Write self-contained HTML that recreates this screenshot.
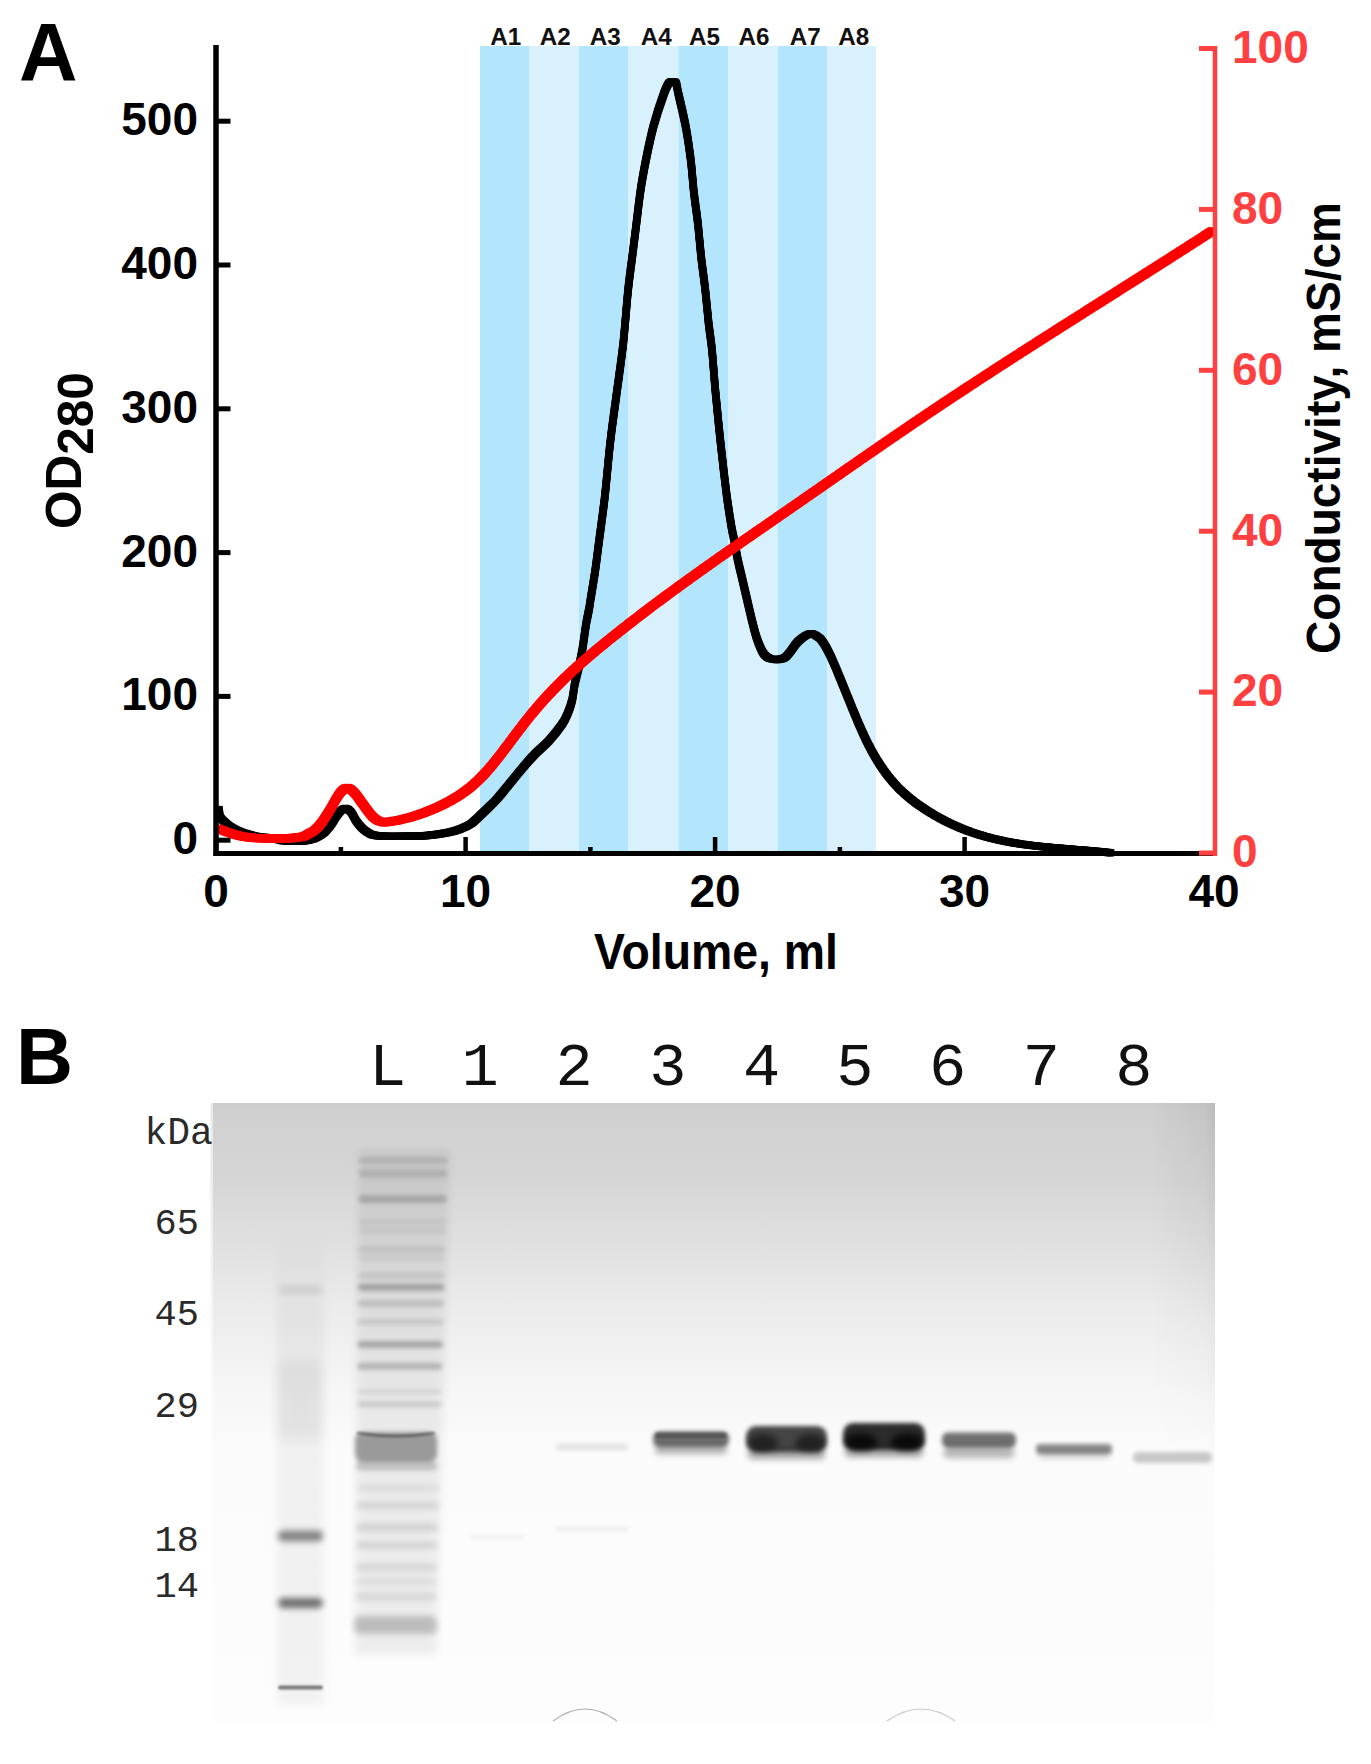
<!DOCTYPE html>
<html><head><meta charset="utf-8"><title>Figure</title>
<style>html,body{margin:0;padding:0;background:#fff;}svg{display:block;}</style>
</head><body>
<svg width="1371" height="1764" viewBox="0 0 1371 1764">
<rect width="1371" height="1764" fill="#fff"/>
<defs>
<linearGradient id="gv" gradientUnits="userSpaceOnUse" x1="0" y1="1103" x2="0" y2="1722">
 <stop offset="0" stop-color="#cdcdcd"/>
 <stop offset="0.02" stop-color="#d0d0d0"/>
 <stop offset="0.124" stop-color="#d6d6d6"/>
 <stop offset="0.237" stop-color="#e1e1e1"/>
 <stop offset="0.318" stop-color="#eaeaea"/>
 <stop offset="0.399" stop-color="#f1f1f1"/>
 <stop offset="0.48" stop-color="#f7f7f7"/>
 <stop offset="0.56" stop-color="#fbfbfb"/>
 <stop offset="1" stop-color="#fdfdfd"/>
</linearGradient>
<linearGradient id="gre" gradientUnits="userSpaceOnUse" x1="1150" y1="0" x2="1215" y2="0">
 <stop offset="0" stop-color="#000" stop-opacity="0"/>
 <stop offset="0.85" stop-color="#000" stop-opacity="0.05"/>
 <stop offset="1" stop-color="#000" stop-opacity="0.09"/>
</linearGradient>
<linearGradient id="gfade" gradientUnits="userSpaceOnUse" x1="0" y1="1103" x2="0" y2="1480">
 <stop offset="0" stop-color="#fff" stop-opacity="1"/>
 <stop offset="1" stop-color="#fff" stop-opacity="0"/>
</linearGradient>
<mask id="gmask"><rect x="1100" y="1103" width="120" height="380" fill="url(#gfade)"/></mask>
<filter id="b1" x="-10%" y="-300%" width="120%" height="700%"><feGaussianBlur stdDeviation="1.3"/></filter>
<filter id="b2" x="-10%" y="-300%" width="120%" height="700%"><feGaussianBlur stdDeviation="2"/></filter>
<filter id="b3" x="-20%" y="-200%" width="140%" height="500%"><feGaussianBlur stdDeviation="3"/></filter>
<filter id="b4" x="-20%" y="-100%" width="140%" height="300%"><feGaussianBlur stdDeviation="4"/></filter>
<filter id="b6" x="-30%" y="-30%" width="160%" height="160%"><feGaussianBlur stdDeviation="6"/></filter>
<linearGradient id="mlane" gradientUnits="userSpaceOnUse" x1="0" y1="1230" x2="0" y2="1705">
 <stop offset="0" stop-color="#000" stop-opacity="0"/>
 <stop offset="0.2" stop-color="#000" stop-opacity="0.045"/>
 <stop offset="1" stop-color="#000" stop-opacity="0.045"/>
</linearGradient>
<clipPath id="gclip"><rect x="210.5" y="1103" width="1004.5" height="619"/></clipPath>
</defs>
<g clip-path="url(#gclip)">
<rect x="210.5" y="1103.0" width="1004.5" height="619.0" fill="url(#gv)"/>
<rect x="1100" y="1103" width="115" height="380" fill="url(#gre)" mask="url(#gmask)"/>
<rect x="210.5" y="1103" width="2.5" height="619" fill="#fff" opacity="0.55"/>
<rect x="277" y="1230" width="47" height="475" fill="url(#mlane)" filter="url(#b4)"/>
<rect x="277.0" y="1360.0" width="45.0" height="80.0" rx="5.0" fill="#000" opacity="0.045" filter="url(#b6)"/>
<rect x="278.0" y="1285.5" width="45.0" height="9.0" rx="4.5" fill="#000" opacity="0.080" filter="url(#b3)"/>
<rect x="278.0" y="1530.5" width="45.0" height="11.0" rx="5.0" fill="#000" opacity="0.450" filter="url(#b3)"/>
<rect x="278.0" y="1598.0" width="45.0" height="10.0" rx="5.0" fill="#000" opacity="0.550" filter="url(#b3)"/>
<rect x="278.0" y="1685.5" width="45.0" height="4.0" rx="2.0" fill="#000" opacity="0.500" filter="url(#b1)"/>
<path d="M358,1150 L450,1150 L437,1655 L354,1655 Z" fill="#000" opacity="0.06" filter="url(#b4)"/>
<rect x="358.9" y="1156.9" width="88.8" height="7.0" rx="3.5" fill="#000" opacity="0.100" filter="url(#b2)"/>
<rect x="358.8" y="1169.5" width="88.6" height="8.0" rx="4.0" fill="#000" opacity="0.120" filter="url(#b2)"/>
<rect x="358.6" y="1195.0" width="88.1" height="8.0" rx="4.0" fill="#000" opacity="0.180" filter="url(#b2)"/>
<rect x="358.4" y="1218.7" width="87.7" height="6.0" rx="3.0" fill="#000" opacity="0.060" filter="url(#b2)"/>
<rect x="358.4" y="1227.9" width="87.6" height="5.0" rx="2.5" fill="#000" opacity="0.060" filter="url(#b2)"/>
<rect x="358.2" y="1246.4" width="87.2" height="6.0" rx="3.0" fill="#000" opacity="0.090" filter="url(#b2)"/>
<rect x="358.1" y="1255.5" width="87.1" height="5.0" rx="2.5" fill="#000" opacity="0.060" filter="url(#b2)"/>
<rect x="358.0" y="1272.7" width="86.7" height="6.0" rx="3.0" fill="#000" opacity="0.090" filter="url(#b2)"/>
<rect x="357.9" y="1283.8" width="86.5" height="7.0" rx="3.5" fill="#000" opacity="0.250" filter="url(#b2)"/>
<rect x="357.8" y="1299.9" width="86.2" height="7.0" rx="3.5" fill="#000" opacity="0.130" filter="url(#b2)"/>
<rect x="357.6" y="1319.0" width="85.9" height="6.0" rx="3.0" fill="#000" opacity="0.100" filter="url(#b2)"/>
<rect x="357.4" y="1340.9" width="85.5" height="7.0" rx="3.5" fill="#000" opacity="0.250" filter="url(#b2)"/>
<rect x="357.3" y="1362.8" width="85.1" height="7.0" rx="3.5" fill="#000" opacity="0.200" filter="url(#b2)"/>
<rect x="357.1" y="1389.3" width="84.6" height="5.0" rx="2.5" fill="#000" opacity="0.080" filter="url(#b2)"/>
<rect x="357.0" y="1401.2" width="84.4" height="6.0" rx="3.0" fill="#000" opacity="0.120" filter="url(#b2)"/>
<rect x="356.5" y="1463.0" width="83.3" height="6.0" rx="3.0" fill="#000" opacity="0.080" filter="url(#b3)"/>
<rect x="356.3" y="1485.0" width="82.9" height="6.0" rx="3.0" fill="#000" opacity="0.080" filter="url(#b3)"/>
<rect x="356.2" y="1502.0" width="82.6" height="7.0" rx="3.5" fill="#000" opacity="0.110" filter="url(#b3)"/>
<rect x="356.0" y="1524.1" width="82.2" height="7.0" rx="3.5" fill="#000" opacity="0.120" filter="url(#b3)"/>
<rect x="355.8" y="1542.3" width="81.9" height="6.0" rx="3.0" fill="#000" opacity="0.120" filter="url(#b3)"/>
<rect x="355.7" y="1563.9" width="81.5" height="7.0" rx="3.5" fill="#000" opacity="0.100" filter="url(#b3)"/>
<rect x="355.5" y="1579.0" width="81.2" height="6.0" rx="3.0" fill="#000" opacity="0.080" filter="url(#b3)"/>
<rect x="355.4" y="1593.3" width="81.0" height="7.0" rx="3.5" fill="#000" opacity="0.100" filter="url(#b3)"/>
<rect x="355.0" y="1432.0" width="82.0" height="30.0" rx="8.0" fill="#000" opacity="0.340" filter="url(#b2)"/>
<rect x="356.0" y="1461.0" width="80.0" height="10.0" rx="4.0" fill="#000" opacity="0.120" filter="url(#b2)"/>
<path d="M357,1433 Q396,1439 435,1433" fill="none" stroke="#000" stroke-width="3" opacity="0.35" filter="url(#b1)"/>
<rect x="354.0" y="1616.0" width="83.0" height="18.0" rx="6.0" fill="#000" opacity="0.200" filter="url(#b3)"/>
<rect x="470.0" y="1535.0" width="55.0" height="4.0" rx="2.0" fill="#000" opacity="0.050" filter="url(#b2)"/>
<rect x="556.0" y="1444.0" width="72.0" height="6.0" rx="3.0" fill="#000" opacity="0.100" filter="url(#b2)"/>
<rect x="556.0" y="1527.0" width="72.0" height="4.0" rx="2.0" fill="#000" opacity="0.070" filter="url(#b2)"/>
<rect x="653.0" y="1431.5" width="76.0" height="15.0" rx="6.0" fill="#000" opacity="0.550" filter="url(#b2)"/>
<rect x="655.0" y="1432.0" width="72.0" height="6.0" rx="3.0" fill="#000" opacity="0.250" filter="url(#b1)"/>
<rect x="655.0" y="1444.0" width="72.0" height="10.0" rx="4.0" fill="#000" opacity="0.300" filter="url(#b3)"/>
<rect x="746.0" y="1426.0" width="81.0" height="26.0" rx="10.0" fill="#000" opacity="0.720" filter="url(#b2)"/>
<rect x="748.0" y="1449.0" width="77.0" height="10.0" rx="4.0" fill="#000" opacity="0.350" filter="url(#b3)"/>
<ellipse cx="763.0" cy="1443.0" rx="15.0" ry="9.0" fill="#000" opacity="0.500" filter="url(#b3)"/>
<ellipse cx="810.5" cy="1443.0" rx="15.0" ry="9.0" fill="#000" opacity="0.500" filter="url(#b3)"/>
<rect x="843.0" y="1423.0" width="82.0" height="27.0" rx="10.0" fill="#000" opacity="0.820" filter="url(#b2)"/>
<rect x="845.0" y="1447.0" width="78.0" height="10.0" rx="4.0" fill="#000" opacity="0.350" filter="url(#b3)"/>
<ellipse cx="861.0" cy="1442.0" rx="16.0" ry="9.0" fill="#000" opacity="0.750" filter="url(#b3)"/>
<ellipse cx="907.0" cy="1442.0" rx="16.0" ry="9.0" fill="#000" opacity="0.750" filter="url(#b3)"/>
<rect x="942.0" y="1432.5" width="74.0" height="15.0" rx="6.0" fill="#000" opacity="0.550" filter="url(#b2)"/>
<rect x="944.0" y="1446.0" width="70.0" height="12.0" rx="4.0" fill="#000" opacity="0.280" filter="url(#b3)"/>
<rect x="1036.0" y="1444.0" width="76.0" height="10.0" rx="4.0" fill="#000" opacity="0.450" filter="url(#b2)"/>
<rect x="1038.0" y="1452.0" width="72.0" height="6.0" rx="3.0" fill="#000" opacity="0.180" filter="url(#b3)"/>
<rect x="1133.0" y="1452.0" width="79.0" height="11.0" rx="5.0" fill="#000" opacity="0.200" filter="url(#b2)"/>
<path d="M553,1721 Q585,1697 617,1721" fill="none" stroke="#777" stroke-width="1.2" opacity="0.6"/>
<path d="M887,1721 Q921,1697 955,1721" fill="none" stroke="#999" stroke-width="1.2" opacity="0.5"/>
</g>
<rect x="480.0" y="46" width="49.5" height="807" fill="#b3e6fd"/>
<rect x="529.5" y="46" width="49.5" height="807" fill="#d9f1fd"/>
<rect x="579.0" y="46" width="49.5" height="807" fill="#b3e6fd"/>
<rect x="628.5" y="46" width="50.0" height="807" fill="#d9f1fd"/>
<rect x="678.5" y="46" width="49.5" height="807" fill="#b3e6fd"/>
<rect x="728.0" y="46" width="49.5" height="807" fill="#d9f1fd"/>
<rect x="777.5" y="46" width="50.0" height="807" fill="#b3e6fd"/>
<rect x="827.5" y="46" width="48.5" height="807" fill="#d9f1fd"/>
<text x="505.7" y="44.8" text-anchor="middle" font-size="24.5" font-family="&apos;Liberation Sans&apos;, sans-serif" font-weight="bold" textLength="31" lengthAdjust="spacingAndGlyphs" fill="#111">A1</text>
<text x="555.2" y="44.8" text-anchor="middle" font-size="24.5" font-family="&apos;Liberation Sans&apos;, sans-serif" font-weight="bold" textLength="31" lengthAdjust="spacingAndGlyphs" fill="#111">A2</text>
<text x="605.2" y="44.8" text-anchor="middle" font-size="24.5" font-family="&apos;Liberation Sans&apos;, sans-serif" font-weight="bold" textLength="31" lengthAdjust="spacingAndGlyphs" fill="#111">A3</text>
<text x="656.2" y="44.8" text-anchor="middle" font-size="24.5" font-family="&apos;Liberation Sans&apos;, sans-serif" font-weight="bold" textLength="31" lengthAdjust="spacingAndGlyphs" fill="#111">A4</text>
<text x="704.5" y="44.8" text-anchor="middle" font-size="24.5" font-family="&apos;Liberation Sans&apos;, sans-serif" font-weight="bold" textLength="31" lengthAdjust="spacingAndGlyphs" fill="#111">A5</text>
<text x="754.1" y="44.8" text-anchor="middle" font-size="24.5" font-family="&apos;Liberation Sans&apos;, sans-serif" font-weight="bold" textLength="31" lengthAdjust="spacingAndGlyphs" fill="#111">A6</text>
<text x="805.2" y="44.8" text-anchor="middle" font-size="24.5" font-family="&apos;Liberation Sans&apos;, sans-serif" font-weight="bold" textLength="31" lengthAdjust="spacingAndGlyphs" fill="#111">A7</text>
<text x="853.8" y="44.8" text-anchor="middle" font-size="24.5" font-family="&apos;Liberation Sans&apos;, sans-serif" font-weight="bold" textLength="31" lengthAdjust="spacingAndGlyphs" fill="#111">A8</text>
<defs><path id="cb" d="M219.2,809.5 C219.3,810.7 219.3,814.6 220.0,816.5 C220.7,818.4 221.9,819.4 223.5,821.0 C225.1,822.6 227.1,824.4 229.5,826.0 C231.9,827.6 234.6,829.1 237.8,830.5 C241.0,831.9 245.2,833.4 248.8,834.5 C252.5,835.6 256.1,836.4 259.7,837.0 C263.3,837.6 267.0,837.4 270.6,838.0 C274.2,838.6 278.0,840.0 281.6,840.5 C285.2,841.0 288.9,841.2 292.5,841.3 C296.1,841.4 299.9,841.5 303.5,841.0 C307.1,840.5 311.6,839.4 314.4,838.5 C317.1,837.6 318.2,836.7 320.0,835.5 C321.8,834.3 323.4,833.4 325.3,831.5 C327.2,829.6 329.8,826.5 331.6,824.0 C333.4,821.5 334.7,818.8 336.3,816.5 C337.9,814.2 339.4,811.8 341.0,810.5 C342.6,809.2 344.3,808.2 346.0,808.5 C347.7,808.8 349.3,809.9 351.0,812.0 C352.7,814.1 354.6,818.7 356.4,821.3 C358.2,823.9 360.1,826.0 361.9,827.8 C363.7,829.6 365.6,831.0 367.4,832.2 C369.2,833.4 370.1,834.3 372.8,835.0 C375.5,835.7 378.3,836.1 383.8,836.3 C389.3,836.5 398.3,836.4 405.6,836.3 C412.9,836.2 420.2,836.2 427.5,835.5 C434.8,834.8 443.9,833.3 449.4,832.2 C454.9,831.1 456.6,830.5 460.3,829.0 C464.0,827.5 467.7,826.1 471.3,823.5 C474.9,820.9 479.1,816.4 482.2,813.5 C485.3,810.6 487.7,808.2 490.0,806.0 C492.3,803.8 493.2,803.1 496.0,800.0 C498.8,796.9 502.1,792.8 506.5,787.5 C510.9,782.2 517.7,773.7 522.5,768.0 C527.3,762.3 531.1,758.0 535.5,753.5 C539.9,749.0 544.4,745.6 548.8,740.8 C553.2,736.0 558.8,729.0 561.9,724.5 C565.0,720.0 565.8,718.1 567.5,714.0 C569.2,709.9 571.0,705.0 572.2,700.0 C573.4,695.0 573.6,689.6 574.8,683.9 C576.0,678.2 578.0,671.1 579.2,665.6 C580.4,660.1 581.2,655.9 582.1,651.0 C583.0,646.1 583.6,641.4 584.3,636.5 C585.0,631.6 585.6,626.8 586.5,621.9 C587.4,617.0 588.7,611.3 589.4,607.3 C590.1,603.3 589.8,604.2 590.8,598.0 C591.8,591.8 593.9,579.7 595.3,570.0 C596.7,560.3 597.6,552.2 599.2,540.0 C600.8,527.8 602.9,513.3 604.8,497.0 C606.6,480.7 608.3,459.7 610.3,442.0 C612.3,424.3 614.8,407.5 617.0,391.0 C619.2,374.5 621.4,359.8 623.3,343.0 C625.1,326.2 626.6,304.4 628.1,290.1 C629.6,275.8 630.8,268.2 632.2,257.3 C633.6,246.4 634.9,235.4 636.3,224.4 C637.7,213.4 638.8,202.5 640.4,191.5 C642.0,180.5 644.0,169.5 646.2,158.6 C648.4,147.7 650.6,136.8 653.6,125.8 C656.6,114.8 661.6,100.0 664.2,92.9 C666.8,85.8 667.6,84.8 669.0,83.0 C670.4,81.2 671.3,81.8 672.5,81.8 C673.7,81.8 675.0,81.2 676.0,83.0 C677.0,84.8 676.6,85.8 678.2,92.9 C679.8,100.0 683.5,114.8 685.6,125.8 C687.7,136.8 689.2,147.7 690.6,158.6 C692.0,169.5 692.6,180.5 693.8,191.5 C695.0,202.5 696.8,213.4 698.0,224.4 C699.2,235.4 700.0,246.4 701.2,257.3 C702.4,268.2 704.1,279.2 705.3,290.1 C706.5,301.1 707.5,313.0 708.6,323.0 C709.7,333.0 710.9,338.7 712.0,350.0 C713.1,361.3 714.0,375.7 715.4,391.0 C716.8,406.3 718.7,425.0 720.5,442.0 C722.3,459.0 724.6,478.8 726.4,493.0 C728.2,507.2 730.2,519.0 731.5,527.0 C732.8,535.0 733.4,535.6 734.4,541.0 C735.4,546.4 736.4,553.0 737.7,559.4 C739.0,565.8 740.8,572.5 742.3,579.1 C743.8,585.7 745.4,592.2 746.9,598.8 C748.4,605.4 749.9,611.9 751.5,618.5 C753.1,625.1 754.8,632.4 756.8,638.2 C758.8,644.0 761.3,650.1 763.5,653.5 C765.7,656.9 767.6,657.5 770.0,658.5 C772.4,659.5 775.5,659.7 778.0,659.5 C780.5,659.3 783.0,658.8 785.0,657.5 C787.0,656.2 787.7,654.8 790.0,652.0 C792.3,649.2 795.4,643.9 798.8,640.8 C802.2,637.7 807.1,634.0 810.6,633.6 C814.1,633.2 818.0,637.2 819.8,638.3 C821.6,639.4 820.8,639.4 821.3,640.0 C821.8,640.6 822.3,641.3 822.8,642.0 C823.3,642.7 823.8,643.5 824.3,644.2 C824.8,645.0 825.3,645.9 825.8,646.7 C826.3,647.6 826.8,648.5 827.3,649.5 C827.8,650.4 828.3,651.4 828.8,652.4 C829.3,653.4 829.8,654.4 830.3,655.4 C830.8,656.5 831.3,657.6 831.8,658.7 C832.3,659.8 832.8,660.9 833.3,662.0 C833.8,663.2 834.3,664.3 834.8,665.5 C835.3,666.7 835.8,667.8 836.3,669.0 C836.8,670.2 837.3,671.4 837.8,672.6 C838.3,673.8 838.8,675.1 839.3,676.3 C839.8,677.5 840.3,678.7 840.8,679.9 C841.3,681.2 841.8,682.4 842.3,683.6 C842.8,684.8 843.3,686.1 843.8,687.3 C844.3,688.5 844.8,689.8 845.3,691.0 C845.8,692.3 846.3,693.5 846.8,694.7 C847.3,696.0 847.8,697.2 848.3,698.4 C848.8,699.7 849.3,700.9 849.8,702.1 C850.3,703.3 850.8,704.6 851.3,705.8 C851.8,707.0 852.3,708.2 852.8,709.5 C853.3,710.7 853.8,711.9 854.3,713.1 C854.8,714.3 855.3,715.5 855.8,716.7 C856.3,717.9 856.8,719.1 857.3,720.3 C857.8,721.4 858.3,722.6 858.8,723.8 C859.3,724.9 859.8,726.1 860.3,727.2 C860.8,728.4 861.3,729.5 861.8,730.6 C862.3,731.7 862.8,732.8 863.3,733.9 C863.8,735.0 864.3,736.1 864.8,737.2 C865.3,738.2 865.8,739.3 866.3,740.3 C866.8,741.3 867.3,742.3 867.8,743.3 C868.3,744.3 868.8,745.3 869.3,746.3 C869.8,747.2 870.3,748.2 870.8,749.1 C871.3,750.1 871.8,751.0 872.3,751.9 C872.8,752.8 873.3,753.7 873.8,754.6 C874.3,755.4 874.8,756.3 875.3,757.1 C875.8,758.0 876.3,758.8 876.8,759.7 C877.3,760.5 877.8,761.3 878.3,762.1 C878.8,762.9 879.3,763.7 879.8,764.4 C880.3,765.2 880.8,766.0 881.3,766.7 C881.8,767.4 882.3,768.2 882.8,768.9 C883.3,769.6 883.8,770.3 884.3,771.0 C884.8,771.7 885.3,772.4 885.8,773.1 C886.3,773.7 886.8,774.4 887.3,775.1 C887.8,775.7 888.3,776.4 888.8,777.0 C889.3,777.6 889.8,778.2 890.3,778.8 C890.8,779.5 891.3,780.1 891.8,780.6 C892.3,781.2 892.8,781.8 893.3,782.4 C893.8,783.0 894.3,783.5 894.8,784.1 C895.3,784.6 895.8,785.2 896.3,785.7 C896.8,786.2 897.3,786.7 897.8,787.3 C898.3,787.8 898.8,788.3 899.3,788.8 C899.8,789.3 900.3,789.8 900.8,790.3 C901.3,790.7 901.8,791.2 902.3,791.7 C902.8,792.2 903.3,792.6 903.8,793.1 C904.3,793.5 904.8,794.0 905.3,794.4 C905.8,794.9 906.3,795.3 906.8,795.7 C907.3,796.2 907.8,796.6 908.3,797.0 C908.8,797.4 909.3,797.8 909.8,798.2 C910.3,798.6 910.8,799.0 911.3,799.4 C911.8,799.8 912.3,800.2 912.8,800.6 C913.3,801.0 913.8,801.4 914.3,801.7 C914.8,802.1 915.3,802.5 915.8,802.9 C916.3,803.2 916.8,803.6 917.3,803.9 C917.8,804.3 918.3,804.7 918.8,805.0 C919.3,805.4 919.8,805.7 920.3,806.1 C920.8,806.4 921.3,806.8 921.8,807.1 C922.3,807.4 922.8,807.8 923.3,808.1 C923.8,808.4 924.3,808.8 924.8,809.1 C925.3,809.4 925.8,809.8 926.3,810.1 C926.8,810.4 927.3,810.7 927.8,811.0 C928.3,811.4 928.8,811.7 929.3,812.0 C929.8,812.3 930.3,812.6 930.8,812.9 C931.3,813.2 931.8,813.5 932.3,813.8 C932.8,814.1 933.3,814.4 933.8,814.7 C934.3,815.0 934.8,815.3 935.3,815.6 C935.8,815.9 936.3,816.2 936.8,816.4 C937.3,816.7 937.8,817.0 938.3,817.3 C938.8,817.6 939.3,817.8 939.8,818.1 C940.3,818.4 940.8,818.7 941.3,818.9 C941.8,819.2 942.3,819.5 942.8,819.7 C943.3,820.0 943.8,820.2 944.3,820.5 C944.8,820.7 945.3,821.0 945.8,821.3 C946.3,821.5 946.8,821.8 947.3,822.0 C947.8,822.3 948.3,822.5 948.8,822.7 C949.3,823.0 949.8,823.2 950.3,823.5 C950.8,823.7 951.3,823.9 951.8,824.2 C952.3,824.4 952.8,824.6 953.3,824.9 C953.8,825.1 954.3,825.3 954.8,825.5 C955.3,825.8 955.8,826.0 956.3,826.2 C956.8,826.4 957.3,826.6 957.8,826.8 C958.3,827.1 958.8,827.3 959.3,827.5 C959.8,827.7 960.3,827.9 960.8,828.1 C961.3,828.3 961.8,828.5 962.3,828.7 C962.8,828.9 963.3,829.1 963.8,829.3 C964.3,829.5 964.8,829.7 965.3,829.9 C965.8,830.1 966.3,830.3 966.8,830.5 C967.3,830.6 967.8,830.8 968.3,831.0 C968.8,831.2 969.3,831.4 969.8,831.6 C970.3,831.7 970.8,831.9 971.3,832.1 C971.8,832.3 972.3,832.4 972.8,832.6 C973.3,832.8 973.8,832.9 974.3,833.1 C974.8,833.3 975.3,833.4 975.8,833.6 C976.3,833.8 976.8,833.9 977.3,834.1 C977.8,834.3 978.3,834.4 978.8,834.6 C979.3,834.7 979.8,834.9 980.3,835.0 C980.8,835.2 981.3,835.3 981.8,835.5 C982.3,835.6 982.8,835.8 983.3,835.9 C983.8,836.1 984.3,836.2 984.8,836.4 C985.3,836.5 985.8,836.6 986.3,836.8 C986.8,836.9 987.3,837.0 987.8,837.2 C988.3,837.3 988.8,837.5 989.3,837.6 C989.8,837.7 990.3,837.8 990.8,838.0 C991.3,838.1 991.8,838.2 992.3,838.4 C992.8,838.5 993.3,838.6 993.8,838.7 C994.3,838.8 994.8,839.0 995.3,839.1 C995.8,839.2 996.3,839.3 996.8,839.4 C997.3,839.5 997.8,839.7 998.3,839.8 C998.8,839.9 999.3,840.0 999.8,840.1 C1000.3,840.2 1000.8,840.3 1001.3,840.4 C1001.8,840.5 1002.3,840.6 1002.8,840.8 C1003.3,840.9 1003.8,841.0 1004.3,841.1 C1004.8,841.2 1005.3,841.3 1005.8,841.4 C1006.3,841.5 1006.8,841.6 1007.3,841.7 C1007.8,841.7 1008.3,841.8 1008.8,841.9 C1009.3,842.0 1009.8,842.1 1010.3,842.2 C1010.8,842.3 1011.3,842.4 1011.8,842.5 C1012.3,842.6 1012.8,842.7 1013.3,842.7 C1013.8,842.8 1014.3,842.9 1014.8,843.0 C1015.3,843.1 1015.8,843.2 1016.3,843.2 C1016.8,843.3 1017.3,843.4 1017.8,843.5 C1018.3,843.6 1018.8,843.6 1019.3,843.7 C1019.8,843.8 1020.3,843.9 1020.8,844.0 C1021.3,844.0 1021.8,844.1 1022.3,844.2 C1022.8,844.2 1023.3,844.3 1023.8,844.4 C1024.3,844.5 1024.8,844.5 1025.3,844.6 C1025.8,844.7 1026.3,844.7 1026.8,844.8 C1027.3,844.9 1027.8,844.9 1028.3,845.0 C1028.8,845.1 1029.3,845.1 1029.8,845.2 C1030.3,845.3 1030.8,845.3 1031.3,845.4 C1031.8,845.4 1032.3,845.5 1032.8,845.6 C1033.3,845.6 1033.8,845.7 1034.3,845.8 C1034.8,845.8 1035.3,845.9 1035.8,845.9 C1036.3,846.0 1036.8,846.0 1037.3,846.1 C1037.8,846.2 1038.3,846.2 1038.8,846.3 C1039.3,846.3 1039.8,846.4 1040.3,846.4 C1040.8,846.5 1041.3,846.5 1041.8,846.6 C1042.3,846.6 1042.8,846.7 1043.3,846.7 C1043.8,846.8 1044.3,846.8 1044.8,846.9 C1045.3,846.9 1045.8,847.0 1046.3,847.0 C1046.8,847.1 1047.3,847.1 1047.8,847.2 C1048.3,847.2 1048.8,847.3 1049.3,847.3 C1049.8,847.4 1050.3,847.4 1050.8,847.5 C1051.3,847.5 1051.8,847.6 1052.3,847.6 C1052.8,847.6 1053.3,847.7 1053.8,847.7 C1054.3,847.8 1054.8,847.8 1055.3,847.9 C1055.8,847.9 1056.3,848.0 1056.8,848.0 C1057.3,848.0 1057.8,848.1 1058.3,848.1 C1058.8,848.2 1059.3,848.2 1059.8,848.2 C1060.3,848.3 1060.8,848.3 1061.3,848.4 C1061.8,848.4 1062.3,848.5 1062.8,848.5 C1063.3,848.5 1063.8,848.6 1064.3,848.6 C1064.8,848.7 1065.3,848.7 1065.8,848.7 C1066.3,848.8 1066.8,848.8 1067.3,848.9 C1067.8,848.9 1068.3,848.9 1068.8,849.0 C1069.3,849.0 1069.8,849.1 1070.3,849.1 C1070.8,849.1 1071.3,849.2 1071.8,849.2 C1072.3,849.3 1072.8,849.3 1073.3,849.3 C1073.8,849.4 1074.3,849.4 1074.8,849.5 C1075.3,849.5 1075.8,849.5 1076.3,849.6 C1076.8,849.6 1077.3,849.7 1077.8,849.7 C1078.3,849.7 1078.8,849.8 1079.3,849.8 C1079.8,849.9 1080.3,849.9 1080.8,849.9 C1081.3,850.0 1081.8,850.0 1082.3,850.1 C1082.8,850.1 1083.3,850.1 1083.8,850.2 C1084.3,850.2 1084.8,850.3 1085.3,850.3 C1085.8,850.3 1086.3,850.4 1086.8,850.4 C1087.3,850.5 1087.8,850.5 1088.3,850.6 C1088.8,850.6 1089.3,850.6 1089.8,850.7 C1090.3,850.7 1090.8,850.8 1091.3,850.8 C1091.8,850.9 1092.3,850.9 1092.8,851.0 C1093.3,851.0 1093.8,851.0 1094.3,851.1 C1094.8,851.1 1095.3,851.2 1095.8,851.2 C1096.3,851.3 1096.8,851.3 1097.3,851.4 C1097.8,851.4 1098.3,851.5 1098.8,851.5 C1099.3,851.6 1099.8,851.6 1100.3,851.7 C1100.8,851.7 1101.3,851.8 1101.8,851.8 C1102.3,851.9 1102.8,851.9 1103.3,852.0 C1103.8,852.0 1104.3,852.1 1104.8,852.1 C1105.3,852.2 1105.8,852.2 1106.3,852.3 C1106.8,852.3 1107.3,852.4 1107.8,852.5 C1108.3,852.5 1108.8,852.6 1109.3,852.6 C1109.8,852.7 1110.5,852.8 1110.8,852.8" fill="none" stroke="#000" stroke-width="2.0" stroke-linejoin="round" stroke-linecap="round"/></defs><g><use href="#cb" x="-2.70" y="-2.70"/><use href="#cb" x="-2.70" y="-1.35"/><use href="#cb" x="-2.70" y="0.00"/><use href="#cb" x="-2.70" y="1.35"/><use href="#cb" x="-2.70" y="2.70"/><use href="#cb" x="-1.35" y="-2.70"/><use href="#cb" x="-1.35" y="-1.35"/><use href="#cb" x="-1.35" y="0.00"/><use href="#cb" x="-1.35" y="1.35"/><use href="#cb" x="-1.35" y="2.70"/><use href="#cb" x="0.00" y="-2.70"/><use href="#cb" x="0.00" y="-1.35"/><use href="#cb" x="0.00" y="0.00"/><use href="#cb" x="0.00" y="1.35"/><use href="#cb" x="0.00" y="2.70"/><use href="#cb" x="1.35" y="-2.70"/><use href="#cb" x="1.35" y="-1.35"/><use href="#cb" x="1.35" y="0.00"/><use href="#cb" x="1.35" y="1.35"/><use href="#cb" x="1.35" y="2.70"/><use href="#cb" x="2.70" y="-2.70"/><use href="#cb" x="2.70" y="-1.35"/><use href="#cb" x="2.70" y="0.00"/><use href="#cb" x="2.70" y="1.35"/><use href="#cb" x="2.70" y="2.70"/></g>
<defs><path id="cr" d="M218.1,828.7 C219.6,829.2 223.6,830.9 226.9,832.0 C230.2,833.1 234.2,834.4 237.8,835.3 C241.5,836.2 245.2,836.9 248.8,837.4 C252.5,837.9 256.1,838.0 259.7,838.2 C263.3,838.4 267.0,838.4 270.6,838.4 C274.2,838.4 278.0,838.5 281.6,838.4 C285.2,838.3 288.9,838.4 292.5,838.0 C296.1,837.6 300.8,837.0 303.5,836.3 C306.2,835.6 307.1,834.6 308.9,833.6 C310.7,832.6 312.6,831.8 314.4,830.3 C316.2,828.8 318.1,827.1 319.9,824.9 C321.7,822.7 323.5,820.0 325.3,817.2 C327.1,814.5 329.0,811.5 330.8,808.4 C332.6,805.3 334.5,801.5 336.3,798.6 C338.1,795.7 340.0,792.7 341.8,790.9 C343.6,789.1 345.5,788.0 347.0,787.8 C348.5,787.6 349.3,788.3 350.9,789.5 C352.5,790.7 354.6,792.8 356.4,795.0 C358.2,797.2 360.1,800.2 361.9,802.7 C363.7,805.2 365.6,807.9 367.4,810.3 C369.2,812.7 371.0,815.2 372.8,816.9 C374.6,818.6 376.5,819.8 378.3,820.7 C380.1,821.6 382.6,822.1 383.8,822.4 C385.1,822.6 385.1,822.2 385.8,822.2 C386.5,822.1 387.1,822.0 387.8,821.9 C388.5,821.8 389.1,821.7 389.8,821.6 C390.5,821.6 391.1,821.5 391.8,821.3 C392.5,821.2 393.1,821.1 393.8,821.0 C394.5,820.9 395.1,820.8 395.8,820.7 C396.5,820.5 397.1,820.4 397.8,820.3 C398.5,820.1 399.1,820.0 399.8,819.9 C400.5,819.7 401.1,819.6 401.8,819.4 C402.5,819.3 403.1,819.1 403.8,818.9 C404.5,818.8 405.1,818.6 405.8,818.5 C406.5,818.3 407.1,818.1 407.8,817.9 C408.5,817.7 409.1,817.6 409.8,817.4 C410.5,817.2 411.1,817.0 411.8,816.8 C412.5,816.6 413.1,816.4 413.8,816.2 C414.5,816.0 415.1,815.8 415.8,815.6 C416.5,815.3 417.1,815.1 417.8,814.9 C418.5,814.7 419.1,814.5 419.8,814.2 C420.5,814.0 421.1,813.8 421.8,813.5 C422.5,813.3 423.1,813.0 423.8,812.8 C424.5,812.5 425.1,812.3 425.8,812.0 C426.5,811.8 427.1,811.5 427.8,811.2 C428.5,811.0 429.1,810.7 429.8,810.4 C430.5,810.2 431.1,809.9 431.8,809.6 C432.5,809.3 433.1,809.0 433.8,808.7 C434.5,808.4 435.1,808.2 435.8,807.9 C436.5,807.6 437.1,807.3 437.8,807.0 C438.5,806.6 439.1,806.3 439.8,806.0 C440.5,805.7 441.1,805.4 441.8,805.1 C442.5,804.8 443.1,804.4 443.8,804.1 C444.5,803.8 445.1,803.4 445.8,803.1 C446.5,802.7 447.1,802.4 447.8,802.0 C448.5,801.7 449.1,801.3 449.8,801.0 C450.5,800.6 451.1,800.2 451.8,799.9 C452.5,799.5 453.1,799.1 453.8,798.7 C454.5,798.3 455.1,797.9 455.8,797.5 C456.5,797.1 457.1,796.7 457.8,796.3 C458.5,795.9 459.1,795.4 459.8,795.0 C460.5,794.6 461.1,794.1 461.8,793.6 C462.5,793.2 463.1,792.7 463.8,792.2 C464.5,791.8 465.1,791.3 465.8,790.8 C466.5,790.3 467.1,789.8 467.8,789.3 C468.5,788.8 469.1,788.2 469.8,787.7 C470.5,787.2 471.1,786.6 471.8,786.0 C472.5,785.5 473.1,784.9 473.8,784.3 C474.5,783.7 475.1,783.1 475.8,782.5 C476.5,781.9 477.1,781.3 477.8,780.7 C478.5,780.0 479.1,779.4 479.8,778.7 C480.5,778.1 481.1,777.4 481.8,776.7 C482.5,776.0 483.1,775.3 483.8,774.6 C484.5,773.9 485.1,773.2 485.8,772.4 C486.5,771.7 487.1,770.9 487.8,770.2 C488.5,769.4 489.1,768.6 489.8,767.8 C490.5,767.1 491.1,766.3 491.8,765.5 C492.5,764.7 493.1,763.9 493.8,763.0 C494.5,762.2 495.1,761.4 495.8,760.6 C496.5,759.7 497.1,758.9 497.8,758.0 C498.5,757.2 499.1,756.3 499.8,755.5 C500.5,754.6 501.1,753.8 501.8,752.9 C502.5,752.0 503.1,751.2 503.8,750.3 C504.5,749.4 505.1,748.5 505.8,747.6 C506.5,746.8 507.1,745.9 507.8,745.0 C508.5,744.1 509.1,743.2 509.8,742.3 C510.5,741.4 511.1,740.5 511.8,739.7 C512.5,738.8 513.1,737.9 513.8,737.0 C514.5,736.1 515.1,735.2 515.8,734.3 C516.5,733.4 517.1,732.6 517.8,731.7 C518.5,730.8 519.1,729.9 519.8,729.0 C520.5,728.2 521.1,727.3 521.8,726.4 C522.5,725.6 523.1,724.7 523.8,723.8 C524.5,723.0 525.1,722.1 525.8,721.3 C526.5,720.4 527.1,719.6 527.8,718.8 C528.5,717.9 529.1,717.1 529.8,716.3 C530.5,715.4 531.1,714.6 531.8,713.8 C532.5,713.0 533.1,712.2 533.8,711.4 C534.5,710.6 535.1,709.8 535.8,709.0 C536.5,708.3 537.1,707.5 537.8,706.7 C538.5,705.9 539.1,705.2 539.8,704.4 C540.5,703.6 541.1,702.9 541.8,702.1 C542.5,701.4 543.1,700.6 543.8,699.9 C544.5,699.2 545.1,698.4 545.8,697.7 C546.5,697.0 547.1,696.2 547.8,695.5 C548.5,694.8 549.1,694.1 549.8,693.4 C550.5,692.7 551.1,692.0 551.8,691.3 C552.5,690.6 553.1,689.9 553.8,689.2 C554.5,688.5 555.1,687.8 555.8,687.1 C556.5,686.4 557.1,685.8 557.8,685.1 C558.5,684.4 559.1,683.7 559.8,683.1 C560.5,682.4 561.1,681.8 561.8,681.1 C562.5,680.4 563.1,679.8 563.8,679.1 C564.5,678.5 565.1,677.9 565.8,677.2 C566.5,676.6 567.1,675.9 567.8,675.3 C568.5,674.7 569.1,674.0 569.8,673.4 C570.5,672.8 571.1,672.2 571.8,671.6 C572.5,670.9 573.1,670.3 573.8,669.7 C574.5,669.1 575.1,668.5 575.8,667.9 C576.5,667.3 577.1,666.7 577.8,666.1 C578.5,665.5 579.1,664.9 579.8,664.3 C580.5,663.7 581.1,663.1 581.8,662.5 C582.5,661.9 583.1,661.3 583.8,660.8 C584.5,660.2 585.1,659.6 585.8,659.0 C586.5,658.5 587.1,657.9 587.8,657.3 C588.5,656.7 589.1,656.2 589.8,655.6 C590.5,655.0 591.1,654.5 591.8,653.9 C592.5,653.3 593.1,652.8 593.8,652.2 C594.5,651.7 595.1,651.1 595.8,650.5 C596.5,650.0 597.1,649.4 597.8,648.9 C598.5,648.3 599.1,647.8 599.8,647.2 C600.5,646.7 601.1,646.1 601.8,645.6 C602.5,645.0 603.1,644.5 603.8,644.0 C604.5,643.4 605.1,642.9 605.8,642.3 C606.5,641.8 607.1,641.3 607.8,640.7 C608.5,640.2 609.1,639.6 609.8,639.1 C610.5,638.6 611.1,638.0 611.8,637.5 C612.5,637.0 613.1,636.4 613.8,635.9 C614.5,635.4 615.1,634.8 615.8,634.3 C616.5,633.8 617.1,633.2 617.8,632.7 C618.5,632.2 619.1,631.6 619.8,631.1 C620.5,630.6 621.1,630.1 621.8,629.5 C622.5,629.0 623.1,628.5 623.8,628.0 C624.5,627.4 625.1,626.9 625.8,626.4 C626.5,625.9 627.1,625.4 627.8,624.8 C628.5,624.3 629.1,623.8 629.8,623.3 C630.5,622.8 631.1,622.2 631.8,621.7 C632.5,621.2 633.1,620.7 633.8,620.2 C634.5,619.7 635.1,619.1 635.8,618.6 C636.5,618.1 637.1,617.6 637.8,617.1 C638.5,616.6 639.1,616.1 639.8,615.6 C640.5,615.0 641.1,614.5 641.8,614.0 C642.5,613.5 643.1,613.0 643.8,612.5 C644.5,612.0 645.1,611.5 645.8,611.0 C646.5,610.5 647.1,610.0 647.8,609.5 C648.5,609.0 649.1,608.5 649.8,608.0 C650.5,607.5 651.1,606.9 651.8,606.4 C652.5,605.9 653.1,605.4 653.8,604.9 C654.5,604.4 655.1,603.9 655.8,603.4 C656.5,602.9 657.1,602.4 657.8,602.0 C658.5,601.5 659.1,601.0 659.8,600.5 C660.5,600.0 661.1,599.5 661.8,599.0 C662.5,598.5 663.1,598.0 663.8,597.5 C664.5,597.0 665.1,596.5 665.8,596.0 C666.5,595.5 667.1,595.0 667.8,594.5 C668.5,594.0 669.1,593.6 669.8,593.1 C670.5,592.6 671.1,592.1 671.8,591.6 C672.5,591.1 673.1,590.6 673.8,590.1 C674.5,589.6 675.1,589.2 675.8,588.7 C676.5,588.2 677.1,587.7 677.8,587.2 C678.5,586.7 679.1,586.2 679.8,585.8 C680.5,585.3 681.1,584.8 681.8,584.3 C682.5,583.8 683.1,583.3 683.8,582.9 C684.5,582.4 685.1,581.9 685.8,581.4 C686.5,580.9 687.1,580.5 687.8,580.0 C688.5,579.5 689.1,579.0 689.8,578.5 C690.5,578.1 691.1,577.6 691.8,577.1 C692.5,576.6 693.1,576.1 693.8,575.7 C694.5,575.2 695.1,574.7 695.8,574.2 C696.5,573.8 697.1,573.3 697.8,572.8 C698.5,572.3 699.1,571.9 699.8,571.4 C700.5,570.9 701.1,570.4 701.8,570.0 C702.5,569.5 703.1,569.0 703.8,568.5 C704.5,568.1 705.1,567.6 705.8,567.1 C706.5,566.6 707.1,566.2 707.8,565.7 C708.5,565.2 709.1,564.8 709.8,564.3 C710.5,563.8 711.1,563.3 711.8,562.9 C712.5,562.4 713.1,561.9 713.8,561.5 C714.5,561.0 715.1,560.5 715.8,560.1 C716.5,559.6 717.1,559.1 717.8,558.6 C718.5,558.2 719.1,557.7 719.8,557.2 C720.5,556.8 721.1,556.3 721.8,555.8 C722.5,555.4 723.1,554.9 723.8,554.4 C724.5,554.0 725.1,553.5 725.8,553.0 C726.5,552.6 727.1,552.1 727.8,551.6 C728.5,551.2 729.1,550.7 729.8,550.2 C730.5,549.8 731.1,549.3 731.8,548.9 C732.5,548.4 733.1,547.9 733.8,547.5 C734.5,547.0 735.1,546.5 735.8,546.1 C736.5,545.6 737.1,545.1 737.8,544.7 C738.5,544.2 739.1,543.8 739.8,543.3 C740.5,542.8 741.1,542.4 741.8,541.9 C742.5,541.4 743.1,541.0 743.8,540.5 C744.5,540.1 745.1,539.6 745.8,539.1 C746.5,538.7 747.1,538.2 747.8,537.7 C748.5,537.3 749.1,536.8 749.8,536.4 C750.5,535.9 751.1,535.4 751.8,535.0 C752.5,534.5 753.1,534.0 753.8,533.6 C754.5,533.1 755.1,532.7 755.8,532.2 C756.5,531.7 757.1,531.3 757.8,530.8 C758.5,530.4 759.1,529.9 759.8,529.4 C760.5,529.0 761.1,528.5 761.8,528.1 C762.5,527.6 763.1,527.1 763.8,526.7 C764.5,526.2 765.1,525.8 765.8,525.3 C766.5,524.8 767.1,524.4 767.8,523.9 C768.5,523.5 769.1,523.0 769.8,522.5 C770.5,522.1 771.1,521.6 771.8,521.2 C772.5,520.7 773.1,520.2 773.8,519.8 C774.5,519.3 775.1,518.8 775.8,518.4 C776.5,517.9 777.1,517.5 777.8,517.0 C778.5,516.5 779.1,516.1 779.8,515.6 C780.5,515.2 781.1,514.7 781.8,514.2 C782.5,513.8 783.1,513.3 783.8,512.9 C784.5,512.4 785.1,511.9 785.8,511.5 C786.5,511.0 787.1,510.6 787.8,510.1 C788.5,509.6 789.1,509.2 789.8,508.7 C790.5,508.2 791.1,507.8 791.8,507.3 C792.5,506.9 793.1,506.4 793.8,505.9 C794.5,505.5 795.1,505.0 795.8,504.5 C796.5,504.1 797.1,503.6 797.8,503.2 C798.5,502.7 799.1,502.2 799.8,501.8 C800.5,501.3 801.1,500.8 801.8,500.4 C802.5,499.9 803.1,499.5 803.8,499.0 C804.5,498.5 805.1,498.1 805.8,497.6 C806.5,497.1 807.1,496.7 807.8,496.2 C808.5,495.8 809.1,495.3 809.8,494.8 C810.5,494.4 811.1,493.9 811.8,493.4 C812.5,493.0 813.1,492.5 813.8,492.1 C814.5,491.6 815.1,491.1 815.8,490.7 C816.5,490.2 817.1,489.7 817.8,489.3 C818.5,488.8 819.1,488.3 819.8,487.9 C820.5,487.4 821.1,487.0 821.8,486.5 C822.5,486.0 823.1,485.6 823.8,485.1 C824.5,484.6 825.1,484.2 825.8,483.7 C826.5,483.3 827.1,482.8 827.8,482.3 C828.5,481.9 829.1,481.4 829.8,480.9 C830.5,480.5 831.1,480.0 831.8,479.5 C832.5,479.1 833.1,478.6 833.8,478.2 C834.5,477.7 835.1,477.2 835.8,476.8 C836.5,476.3 837.1,475.8 837.8,475.4 C838.5,474.9 839.1,474.5 839.8,474.0 C840.5,473.5 841.1,473.1 841.8,472.6 C842.5,472.1 843.1,471.7 843.8,471.2 C844.5,470.8 845.1,470.3 845.8,469.8 C846.5,469.4 847.1,468.9 847.8,468.4 C848.5,468.0 849.1,467.5 849.8,467.1 C850.5,466.6 851.1,466.1 851.8,465.7 C852.5,465.2 853.1,464.7 853.8,464.3 C854.5,463.8 855.1,463.4 855.8,462.9 C856.5,462.4 857.1,462.0 857.8,461.5 C858.5,461.1 859.1,460.6 859.8,460.1 C860.5,459.7 861.1,459.2 861.8,458.7 C862.5,458.3 863.1,457.8 863.8,457.4 C864.5,456.9 865.1,456.4 865.8,456.0 C866.5,455.5 867.1,455.1 867.8,454.6 C868.5,454.1 869.1,453.7 869.8,453.2 C870.5,452.8 871.1,452.3 871.8,451.8 C872.5,451.4 873.1,450.9 873.8,450.5 C874.5,450.0 875.1,449.5 875.8,449.1 C876.5,448.6 877.1,448.2 877.8,447.7 C878.5,447.2 879.1,446.8 879.8,446.3 C880.5,445.9 881.1,445.4 881.8,445.0 C882.5,444.5 883.1,444.0 883.8,443.6 C884.5,443.1 885.1,442.7 885.8,442.2 C886.5,441.7 887.1,441.3 887.8,440.8 C888.5,440.4 889.1,439.9 889.8,439.5 C890.5,439.0 891.1,438.5 891.8,438.1 C892.5,437.6 893.1,437.2 893.8,436.7 C894.5,436.3 895.1,435.8 895.8,435.4 C896.5,434.9 897.1,434.4 897.8,434.0 C898.5,433.5 899.1,433.1 899.8,432.6 C900.5,432.2 901.1,431.7 901.8,431.3 C902.5,430.8 903.1,430.3 903.8,429.9 C904.5,429.4 905.1,429.0 905.8,428.5 C906.5,428.1 907.1,427.6 907.8,427.2 C908.5,426.7 909.1,426.3 909.8,425.8 C910.5,425.4 911.1,424.9 911.8,424.5 C912.5,424.0 913.1,423.5 913.8,423.1 C914.5,422.6 915.1,422.2 915.8,421.7 C916.5,421.3 917.1,420.8 917.8,420.4 C918.5,419.9 919.1,419.5 919.8,419.0 C920.5,418.6 921.1,418.1 921.8,417.7 C922.5,417.2 923.1,416.8 923.8,416.3 C924.5,415.9 925.1,415.4 925.8,415.0 C926.5,414.5 927.1,414.1 927.8,413.6 C928.5,413.2 929.1,412.8 929.8,412.3 C930.5,411.9 931.1,411.4 931.8,411.0 C932.5,410.5 933.1,410.1 933.8,409.6 C934.5,409.2 935.1,408.7 935.8,408.3 C936.5,407.8 937.1,407.4 937.8,407.0 C938.5,406.5 939.1,406.1 939.8,405.6 C940.5,405.2 941.1,404.7 941.8,404.3 C942.5,403.8 943.1,403.4 943.8,403.0 C944.5,402.5 945.1,402.1 945.8,401.6 C946.5,401.2 947.1,400.7 947.8,400.3 C948.5,399.9 949.1,399.4 949.8,399.0 C950.5,398.5 951.1,398.1 951.8,397.6 C952.5,397.2 953.1,396.8 953.8,396.3 C954.5,395.9 955.1,395.4 955.8,395.0 C956.5,394.6 957.1,394.1 957.8,393.7 C958.5,393.2 959.1,392.8 959.8,392.4 C960.5,391.9 961.1,391.5 961.8,391.0 C962.5,390.6 963.1,390.2 963.8,389.7 C964.5,389.3 965.1,388.8 965.8,388.4 C966.5,388.0 967.1,387.5 967.8,387.1 C968.5,386.7 969.1,386.2 969.8,385.8 C970.5,385.3 971.1,384.9 971.8,384.5 C972.5,384.0 973.1,383.6 973.8,383.2 C974.5,382.7 975.1,382.3 975.8,381.9 C976.5,381.4 977.1,381.0 977.8,380.6 C978.5,380.1 979.1,379.7 979.8,379.2 C980.5,378.8 981.1,378.4 981.8,377.9 C982.5,377.5 983.1,377.1 983.8,376.6 C984.5,376.2 985.1,375.8 985.8,375.3 C986.5,374.9 987.1,374.5 987.8,374.0 C988.5,373.6 989.1,373.2 989.8,372.7 C990.5,372.3 991.1,371.9 991.8,371.4 C992.5,371.0 993.1,370.6 993.8,370.1 C994.5,369.7 995.1,369.3 995.8,368.8 C996.5,368.4 997.1,368.0 997.8,367.6 C998.5,367.1 999.1,366.7 999.8,366.3 C1000.5,365.8 1001.1,365.4 1001.8,365.0 C1002.5,364.5 1003.1,364.1 1003.8,363.7 C1004.5,363.2 1005.1,362.8 1005.8,362.4 C1006.5,362.0 1007.1,361.5 1007.8,361.1 C1008.5,360.7 1009.1,360.2 1009.8,359.8 C1010.5,359.4 1011.1,358.9 1011.8,358.5 C1012.5,358.1 1013.1,357.7 1013.8,357.2 C1014.5,356.8 1015.1,356.4 1015.8,355.9 C1016.5,355.5 1017.1,355.1 1017.8,354.7 C1018.5,354.2 1019.1,353.8 1019.8,353.4 C1020.5,352.9 1021.1,352.5 1021.8,352.1 C1022.5,351.7 1023.1,351.2 1023.8,350.8 C1024.5,350.4 1025.1,350.0 1025.8,349.5 C1026.5,349.1 1027.1,348.7 1027.8,348.2 C1028.5,347.8 1029.1,347.4 1029.8,347.0 C1030.5,346.5 1031.1,346.1 1031.8,345.7 C1032.5,345.3 1033.1,344.8 1033.8,344.4 C1034.5,344.0 1035.1,343.6 1035.8,343.1 C1036.5,342.7 1037.1,342.3 1037.8,341.9 C1038.5,341.4 1039.1,341.0 1039.8,340.6 C1040.5,340.2 1041.1,339.7 1041.8,339.3 C1042.5,338.9 1043.1,338.5 1043.8,338.0 C1044.5,337.6 1045.1,337.2 1045.8,336.8 C1046.5,336.3 1047.1,335.9 1047.8,335.5 C1048.5,335.1 1049.1,334.6 1049.8,334.2 C1050.5,333.8 1051.1,333.4 1051.8,332.9 C1052.5,332.5 1053.1,332.1 1053.8,331.7 C1054.5,331.2 1055.1,330.8 1055.8,330.4 C1056.5,330.0 1057.1,329.5 1057.8,329.1 C1058.5,328.7 1059.1,328.3 1059.8,327.9 C1060.5,327.4 1061.1,327.0 1061.8,326.6 C1062.5,326.2 1063.1,325.7 1063.8,325.3 C1064.5,324.9 1065.1,324.5 1065.8,324.0 C1066.5,323.6 1067.1,323.2 1067.8,322.8 C1068.5,322.4 1069.1,321.9 1069.8,321.5 C1070.5,321.1 1071.1,320.7 1071.8,320.2 C1072.5,319.8 1073.1,319.4 1073.8,319.0 C1074.5,318.5 1075.1,318.1 1075.8,317.7 C1076.5,317.3 1077.1,316.9 1077.8,316.4 C1078.5,316.0 1079.1,315.6 1079.8,315.2 C1080.5,314.7 1081.1,314.3 1081.8,313.9 C1082.5,313.5 1083.1,313.1 1083.8,312.6 C1084.5,312.2 1085.1,311.8 1085.8,311.4 C1086.5,310.9 1087.1,310.5 1087.8,310.1 C1088.5,309.7 1089.1,309.3 1089.8,308.8 C1090.5,308.4 1091.1,308.0 1091.8,307.6 C1092.5,307.1 1093.1,306.7 1093.8,306.3 C1094.5,305.9 1095.1,305.5 1095.8,305.0 C1096.5,304.6 1097.1,304.2 1097.8,303.8 C1098.5,303.4 1099.1,302.9 1099.8,302.5 C1100.5,302.1 1101.1,301.7 1101.8,301.2 C1102.5,300.8 1103.1,300.4 1103.8,300.0 C1104.5,299.6 1105.1,299.1 1105.8,298.7 C1106.5,298.3 1107.1,297.9 1107.8,297.5 C1108.5,297.0 1109.1,296.6 1109.8,296.2 C1110.5,295.8 1111.1,295.3 1111.8,294.9 C1112.5,294.5 1113.1,294.1 1113.8,293.7 C1114.5,293.2 1115.1,292.8 1115.8,292.4 C1116.5,292.0 1117.1,291.5 1117.8,291.1 C1118.5,290.7 1119.1,290.3 1119.8,289.9 C1120.5,289.4 1121.1,289.0 1121.8,288.6 C1122.5,288.2 1123.1,287.8 1123.8,287.3 C1124.5,286.9 1125.1,286.5 1125.8,286.1 C1126.5,285.6 1127.1,285.2 1127.8,284.8 C1128.5,284.4 1129.1,284.0 1129.8,283.5 C1130.5,283.1 1131.1,282.7 1131.8,282.3 C1132.5,281.8 1133.1,281.4 1133.8,281.0 C1134.5,280.6 1135.1,280.2 1135.8,279.7 C1136.5,279.3 1137.1,278.9 1137.8,278.5 C1138.5,278.0 1139.1,277.6 1139.8,277.2 C1140.5,276.8 1141.1,276.4 1141.8,275.9 C1142.5,275.5 1143.1,275.1 1143.8,274.7 C1144.5,274.2 1145.1,273.8 1145.8,273.4 C1146.5,273.0 1147.1,272.5 1147.8,272.1 C1148.5,271.7 1149.1,271.3 1149.8,270.9 C1150.5,270.4 1151.1,270.0 1151.8,269.6 C1152.5,269.2 1153.1,268.7 1153.8,268.3 C1154.5,267.9 1155.1,267.5 1155.8,267.0 C1156.5,266.6 1157.1,266.2 1157.8,265.8 C1158.5,265.3 1159.1,264.9 1159.8,264.5 C1160.5,264.1 1161.1,263.7 1161.8,263.2 C1162.5,262.8 1163.1,262.4 1163.8,262.0 C1164.5,261.5 1165.1,261.1 1165.8,260.7 C1166.5,260.3 1167.1,259.8 1167.8,259.4 C1168.5,259.0 1169.1,258.6 1169.8,258.1 C1170.5,257.7 1171.1,257.3 1171.8,256.9 C1172.5,256.4 1173.1,256.0 1173.8,255.6 C1174.5,255.2 1175.1,254.7 1175.8,254.3 C1176.5,253.9 1177.1,253.5 1177.8,253.0 C1178.5,252.6 1179.1,252.2 1179.8,251.7 C1180.5,251.3 1181.1,250.9 1181.8,250.5 C1182.5,250.0 1183.1,249.6 1183.8,249.2 C1184.5,248.8 1185.1,248.3 1185.8,247.9 C1186.5,247.5 1187.1,247.1 1187.8,246.6 C1188.5,246.2 1189.1,245.8 1189.8,245.3 C1190.5,244.9 1191.1,244.5 1191.8,244.1 C1192.5,243.6 1193.1,243.2 1193.8,242.8 C1194.5,242.4 1195.1,241.9 1195.8,241.5 C1196.5,241.1 1197.1,240.6 1197.8,240.2 C1198.5,239.8 1199.1,239.4 1199.8,238.9 C1200.5,238.5 1201.1,238.1 1201.8,237.6 C1202.5,237.2 1203.1,236.8 1203.8,236.4 C1204.5,235.9 1205.1,235.5 1205.8,235.1 C1206.5,234.6 1207.1,234.2 1207.8,233.8 C1208.5,233.3 1209.1,232.9 1209.8,232.5 C1210.5,232.0 1211.5,231.4 1211.8,231.2" fill="none" stroke="#ff0000" stroke-width="2.0" stroke-linejoin="round" stroke-linecap="round"/></defs><g><use href="#cr" x="-3.15" y="-3.15"/><use href="#cr" x="-3.15" y="-1.58"/><use href="#cr" x="-3.15" y="0.00"/><use href="#cr" x="-3.15" y="1.58"/><use href="#cr" x="-3.15" y="3.15"/><use href="#cr" x="-1.58" y="-3.15"/><use href="#cr" x="-1.58" y="-1.58"/><use href="#cr" x="-1.58" y="0.00"/><use href="#cr" x="-1.58" y="1.58"/><use href="#cr" x="-1.58" y="3.15"/><use href="#cr" x="0.00" y="-3.15"/><use href="#cr" x="0.00" y="-1.58"/><use href="#cr" x="0.00" y="0.00"/><use href="#cr" x="0.00" y="1.58"/><use href="#cr" x="0.00" y="3.15"/><use href="#cr" x="1.58" y="-3.15"/><use href="#cr" x="1.58" y="-1.58"/><use href="#cr" x="1.58" y="0.00"/><use href="#cr" x="1.58" y="1.58"/><use href="#cr" x="1.58" y="3.15"/><use href="#cr" x="3.15" y="-3.15"/><use href="#cr" x="3.15" y="-1.58"/><use href="#cr" x="3.15" y="0.00"/><use href="#cr" x="3.15" y="1.58"/><use href="#cr" x="3.15" y="3.15"/></g>
<line x1="216" y1="45" x2="216" y2="856" stroke="#000" stroke-width="5.5"/>
<line x1="216" y1="840.2" x2="230.5" y2="840.2" stroke="#000" stroke-width="5"/>
<text x="198" y="854.2" text-anchor="end" font-size="46" font-family="&apos;Liberation Sans&apos;, sans-serif" font-weight="bold" fill="#000">0</text>
<line x1="216" y1="696.4" x2="230.5" y2="696.4" stroke="#000" stroke-width="5"/>
<text x="198" y="710.4" text-anchor="end" font-size="46" font-family="&apos;Liberation Sans&apos;, sans-serif" font-weight="bold" fill="#000">100</text>
<line x1="216" y1="552.6" x2="230.5" y2="552.6" stroke="#000" stroke-width="5"/>
<text x="198" y="566.6" text-anchor="end" font-size="46" font-family="&apos;Liberation Sans&apos;, sans-serif" font-weight="bold" fill="#000">200</text>
<line x1="216" y1="408.8" x2="230.5" y2="408.8" stroke="#000" stroke-width="5"/>
<text x="198" y="422.8" text-anchor="end" font-size="46" font-family="&apos;Liberation Sans&apos;, sans-serif" font-weight="bold" fill="#000">300</text>
<line x1="216" y1="265.0" x2="230.5" y2="265.0" stroke="#000" stroke-width="5"/>
<text x="198" y="279.0" text-anchor="end" font-size="46" font-family="&apos;Liberation Sans&apos;, sans-serif" font-weight="bold" fill="#000">400</text>
<line x1="216" y1="121.2" x2="230.5" y2="121.2" stroke="#000" stroke-width="5"/>
<text x="198" y="135.2" text-anchor="end" font-size="46" font-family="&apos;Liberation Sans&apos;, sans-serif" font-weight="bold" fill="#000">500</text>
<line x1="213.5" y1="853.5" x2="1213" y2="853.5" stroke="#000" stroke-width="5"/>
<line x1="216.1" y1="837" x2="216.1" y2="853" stroke="#000" stroke-width="4.5"/>
<text x="216.1" y="906.5" text-anchor="middle" font-size="46" font-family="&apos;Liberation Sans&apos;, sans-serif" font-weight="bold" fill="#000">0</text>
<line x1="465.6" y1="837" x2="465.6" y2="853" stroke="#000" stroke-width="4.5"/>
<text x="465.6" y="906.5" text-anchor="middle" font-size="46" font-family="&apos;Liberation Sans&apos;, sans-serif" font-weight="bold" fill="#000">10</text>
<line x1="715.1" y1="837" x2="715.1" y2="853" stroke="#000" stroke-width="4.5"/>
<text x="715.1" y="906.5" text-anchor="middle" font-size="46" font-family="&apos;Liberation Sans&apos;, sans-serif" font-weight="bold" fill="#000">20</text>
<line x1="964.6" y1="837" x2="964.6" y2="853" stroke="#000" stroke-width="4.5"/>
<text x="964.6" y="906.5" text-anchor="middle" font-size="46" font-family="&apos;Liberation Sans&apos;, sans-serif" font-weight="bold" fill="#000">30</text>
<text x="1214.1" y="906.5" text-anchor="middle" font-size="46" font-family="&apos;Liberation Sans&apos;, sans-serif" font-weight="bold" fill="#000">40</text>
<line x1="340.9" y1="847" x2="340.9" y2="853" stroke="#000" stroke-width="4.5"/>
<line x1="590.4" y1="847" x2="590.4" y2="853" stroke="#000" stroke-width="4.5"/>
<line x1="839.9" y1="847" x2="839.9" y2="853" stroke="#000" stroke-width="4.5"/>
<line x1="1089.3" y1="847" x2="1089.3" y2="853" stroke="#000" stroke-width="4.5"/>
<line x1="1215" y1="46" x2="1215" y2="856" stroke="#ff4040" stroke-width="4.5"/>
<line x1="1199" y1="853.0" x2="1215" y2="853.0" stroke="#ff4040" stroke-width="5"/>
<text x="1232" y="867.3" font-size="46" font-family="&apos;Liberation Sans&apos;, sans-serif" font-weight="bold" fill="#ff4040">0</text>
<line x1="1199" y1="692.1" x2="1215" y2="692.1" stroke="#ff4040" stroke-width="5"/>
<text x="1232" y="706.4" font-size="46" font-family="&apos;Liberation Sans&apos;, sans-serif" font-weight="bold" fill="#ff4040">20</text>
<line x1="1199" y1="531.2" x2="1215" y2="531.2" stroke="#ff4040" stroke-width="5"/>
<text x="1232" y="545.5" font-size="46" font-family="&apos;Liberation Sans&apos;, sans-serif" font-weight="bold" fill="#ff4040">40</text>
<line x1="1199" y1="370.3" x2="1215" y2="370.3" stroke="#ff4040" stroke-width="5"/>
<text x="1232" y="384.6" font-size="46" font-family="&apos;Liberation Sans&apos;, sans-serif" font-weight="bold" fill="#ff4040">60</text>
<line x1="1199" y1="209.4" x2="1215" y2="209.4" stroke="#ff4040" stroke-width="5"/>
<text x="1232" y="223.7" font-size="46" font-family="&apos;Liberation Sans&apos;, sans-serif" font-weight="bold" fill="#ff4040">80</text>
<line x1="1199" y1="48.5" x2="1215" y2="48.5" stroke="#ff4040" stroke-width="5"/>
<text x="1232" y="62.8" font-size="46" font-family="&apos;Liberation Sans&apos;, sans-serif" font-weight="bold" fill="#ff4040">100</text>
<text x="716" y="968.8" text-anchor="middle" font-size="49.5" textLength="244" lengthAdjust="spacingAndGlyphs" font-family="&apos;Liberation Sans&apos;, sans-serif" font-weight="bold" fill="#000">Volume, ml</text>
<text transform="translate(80.5,529) rotate(-90)" font-size="49.5" font-family="&apos;Liberation Sans&apos;, sans-serif" font-weight="bold" fill="#000">OD<tspan dy="12.3">280</tspan></text>
<text transform="translate(1340,428) rotate(-90)" text-anchor="middle" font-size="48.5" textLength="452" lengthAdjust="spacingAndGlyphs" font-family="&apos;Liberation Sans&apos;, sans-serif" font-weight="bold" fill="#000">Conductivity, mS/cm</text>
<text x="19" y="79.8" font-size="81" font-family="&apos;Liberation Sans&apos;, sans-serif" font-weight="bold" fill="#000">A</text>
<text x="16" y="1084" font-size="79" font-family="&apos;Liberation Sans&apos;, sans-serif" font-weight="bold" fill="#000">B</text>
<text x="387.5" y="1084.5" text-anchor="middle" font-family="&apos;Liberation Mono&apos;, monospace" font-size="62" fill="#111">L</text>
<text x="480.1" y="1084.5" text-anchor="middle" font-family="&apos;Liberation Mono&apos;, monospace" font-size="62" fill="#111">1</text>
<text x="574.0" y="1084.5" text-anchor="middle" font-family="&apos;Liberation Mono&apos;, monospace" font-size="62" fill="#111">2</text>
<text x="667.8" y="1084.5" text-anchor="middle" font-family="&apos;Liberation Mono&apos;, monospace" font-size="62" fill="#111">3</text>
<text x="761.6" y="1084.5" text-anchor="middle" font-family="&apos;Liberation Mono&apos;, monospace" font-size="62" fill="#111">4</text>
<text x="854.8" y="1084.5" text-anchor="middle" font-family="&apos;Liberation Mono&apos;, monospace" font-size="62" fill="#111">5</text>
<text x="947.5" y="1084.5" text-anchor="middle" font-family="&apos;Liberation Mono&apos;, monospace" font-size="62" fill="#111">6</text>
<text x="1041.3" y="1084.5" text-anchor="middle" font-family="&apos;Liberation Mono&apos;, monospace" font-size="62" fill="#111">7</text>
<text x="1133.9" y="1084.5" text-anchor="middle" font-family="&apos;Liberation Mono&apos;, monospace" font-size="62" fill="#111">8</text>
<text x="144.5" y="1143.7" font-family="&apos;Liberation Mono&apos;, monospace" font-size="38" fill="#2a2a2a">kDa</text>
<text x="199" y="1234.3" text-anchor="end" font-family="&apos;Liberation Mono&apos;, monospace" font-size="37" fill="#2a2a2a">65</text>
<text x="199" y="1325.0" text-anchor="end" font-family="&apos;Liberation Mono&apos;, monospace" font-size="37" fill="#2a2a2a">45</text>
<text x="199" y="1416.5" text-anchor="end" font-family="&apos;Liberation Mono&apos;, monospace" font-size="37" fill="#2a2a2a">29</text>
<text x="199" y="1550.5" text-anchor="end" font-family="&apos;Liberation Mono&apos;, monospace" font-size="37" fill="#2a2a2a">18</text>
<text x="199" y="1596.8" text-anchor="end" font-family="&apos;Liberation Mono&apos;, monospace" font-size="37" fill="#2a2a2a">14</text>
</svg>
</body></html>
